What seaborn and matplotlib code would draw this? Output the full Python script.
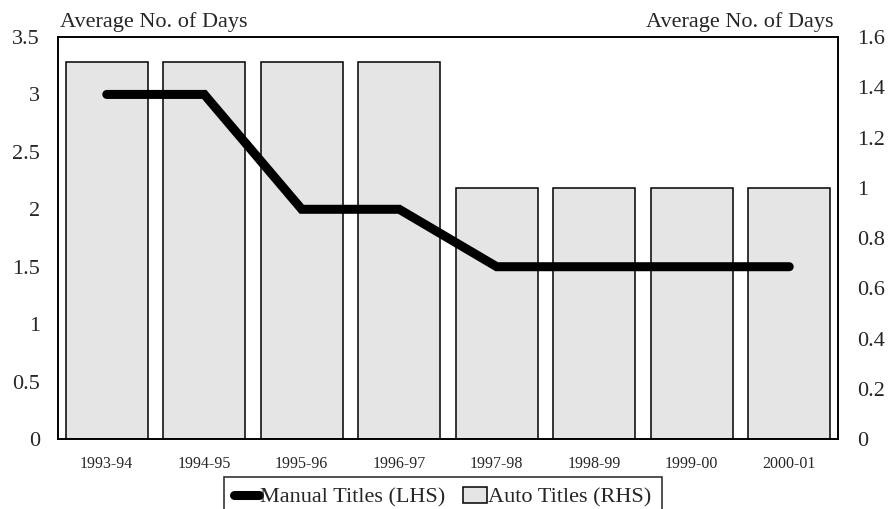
import matplotlib
matplotlib.use("Agg")
import matplotlib.pyplot as plt
import seaborn as sns
import pandas as pd
from matplotlib.lines import Line2D
from matplotlib.patches import Patch

# ---------------------- data ---------------------- #
years = ["1993-94", "1994-95", "1995-96", "1996-97",
         "1997-98", "1998-99", "1999-00", "2000-01"]
manual_titles = [3.0, 3.0, 2.0, 2.0, 1.5, 1.5, 1.5, 1.5]   # LHS
auto_titles = [1.5, 1.5, 1.5, 1.5, 1.0, 1.0, 1.0, 1.0]     # RHS

left_ticks = [0, 0.5, 1, 1.5, 2, 2.5, 3, 3.5]
left_labels = ["0", "0.5", "1", "1.5", "2", "2.5", "3", "3.5"]
right_ticks = [0, 0.2, 0.4, 0.6, 0.8, 1.0, 1.2, 1.4, 1.6]
right_labels = ["0", "0.2", "0.4", "0.6", "0.8", "1", "1.2", "1.4", "1.6"]

df = pd.DataFrame({"year": years, "manual": manual_titles, "auto": auto_titles})

sns.set_style("white")
plt.rcParams["font.family"] = ["Liberation Serif", "DejaVu Serif"]

fig = plt.figure(figsize=(8.92, 5.09), dpi=100)
ax = fig.add_axes([58 / 892, 1 - 439 / 509, 780 / 892, 402 / 509])
ax2 = ax.twinx()

# bars on the right-hand axis
sns.barplot(data=df, x="year", y="auto", ax=ax2, color="#e5e5e5",
            edgecolor="black", linewidth=1.1, width=0.84, saturation=1)

# line on the left-hand axis
sns.lineplot(data=df, x="year", y="manual", ax=ax, color="black",
             linewidth=6.5, sort=False, solid_capstyle="round",
             solid_joinstyle="miter")

ax.set_zorder(ax2.get_zorder() + 1)
ax.patch.set_visible(False)

ax.set_xlim(-0.5, 7.5)
ax.set_ylim(0, 3.5)
ax2.set_ylim(0, 1.6)
ax.set_yticks(left_ticks, left_labels)
ax2.set_yticks(right_ticks, right_labels)
ax.set_xlabel("")
ax.set_ylabel("")
ax2.set_xlabel("")
ax2.set_ylabel("")

ax.tick_params(axis="y", length=0, pad=13, labelsize=16)
ax2.tick_params(axis="y", length=0, pad=14, labelsize=16)
ax.tick_params(axis="x", length=0, pad=12, labelsize=11.5)
ax2.tick_params(axis="x", length=0, pad=12, labelsize=11.5)

for a in (ax, ax2):
    for s in a.spines.values():
        s.set_visible(True)
        s.set_color("black")
        s.set_linewidth(1.2)

fig.text(60 / 892, 1 - 27 / 509, "Average No. of Days", fontsize=16,
         ha="left", va="baseline")
fig.text(833 / 892, 1 - 27 / 509, "Average No. of Days", fontsize=16,
         ha="right", va="baseline")

handles = [
    Line2D([0], [0], color="black", linewidth=6.5, solid_capstyle="round"),
    Patch(facecolor="#e5e5e5", edgecolor="black", linewidth=1.1),
]
leg = fig.legend(handles, ["Manual Titles (LHS)", "Auto Titles (RHS)"],
                 loc="upper center", bbox_to_anchor=(443 / 892, 1 - 477 / 509),
                 ncol=2, fontsize=16, frameon=True, fancybox=False,
                 handlelength=1.1, handletextpad=0.05, columnspacing=0.8,
                 borderpad=0.45, borderaxespad=0)
leg.get_frame().set_edgecolor("black")
leg.get_frame().set_linewidth(1.2)

fig.savefig("out.png", dpi=100)
